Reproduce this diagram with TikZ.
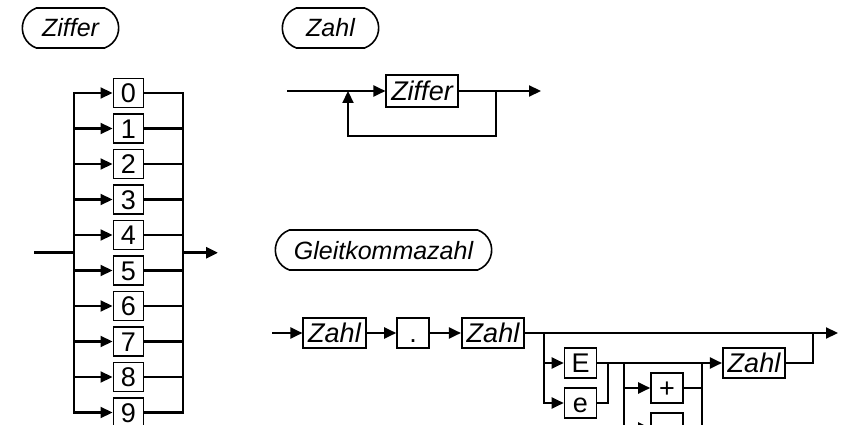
\documentclass[tikz,border=0pt]{standalone}
\usepackage{fontspec}
\setmainfont{Liberation Sans}
\usetikzlibrary{arrows.meta,shapes.misc}

\begin{document}
\begin{tikzpicture}[x=1pt,y=-1pt,
  line/.style={line width=2.2pt, line cap=rect},
  thickline/.style={line, line width=2.8pt},
  arr/.style={line, -{Triangle[length=12pt,width=11pt]}},
  thickarr/.style={arr, line width=2.8pt},
  box/.style={font=\fontsize{27}{32}\selectfont, draw, line width=1.6pt,
    fill=white, minimum height=30pt,
    text height=19.5pt, text depth=0pt, inner xsep=5pt, inner ysep=0pt},
  namebox/.style={box, font=\fontsize{27}{32}\selectfont\itshape},
  digitbox/.style={box, minimum width=30pt, minimum height=29pt, inner xsep=0pt},
  keybox/.style={box, minimum width=32pt, inner xsep=0pt},
  title/.style={draw, line width=1.6pt, rounded rectangle,
    rounded rectangle arc length=140, minimum height=40pt,
    text height=18pt, text depth=0pt, inner ysep=0pt,
    font=\fontsize{25}{30}\selectfont\itshape}]

\clip (0,0) rectangle (847,425);

% ---------- Ziffer ----------
\node[title, minimum width=103pt] (tZiffer) at (70.5,28) {Ziffer};

\foreach \i in {0,...,9} {
  \pgfmathsetmacro\yy{93+35.5*\i}
  \node[digitbox] (d\i) at (128.3,\yy) {\i};
  \coordinate (l\i) at (74,\yy);
  \coordinate (r\i) at (183,\yy);
  \draw[arr] (l\i) -- (d\i.west);
  \draw[line] (d\i.east) -- (r\i);
}
\draw[line] (l0) -- (l9);
\draw[line] (r0) -- (r9);

\coordinate (zin)  at (35,252.75);
\coordinate (zl)   at (74,252.75);
\coordinate (zr)   at (183,252.75);
\coordinate (zout) at (218,252.75);
\draw[thickline] (zin) -- (zl);
\draw[thickarr] (zr) -- (zout);

% ---------- Zahl ----------
\node[title, minimum width=103pt] (tZahl) at (330.5,28) {Zahl};

\node[namebox, minimum height=32pt] (zf) at (422,91) {Ziffer};
\coordinate (zs) at (288,91);
\coordinate (zj) at (348,91);
\coordinate (zk) at (496,91);
\coordinate (ze) at (541,91);
\coordinate (zb1) at (496,136);
\coordinate (zb2) at (348,136);
\draw[arr] (zs) -- (zf.west);
\draw[arr] (zf.east) -- (ze);
\draw[arr] (zk) -- (zb1) -- (zb2) -- (zj);

% ---------- Gleitkommazahl ----------
\node[title, minimum width=223pt] (tGleit) at (383.5,250) {Gleitkommazahl};

\node[namebox] (ga) at (334.5,333) {Zahl};
\node[keybox]  (gd) at (413,333) {.};
\node[namebox] (gb) at (493,333) {Zahl};
\coordinate (gs) at (273,333);
\coordinate (j1) at (544,333);
\coordinate (j2) at (813,333);
\coordinate (ge) at (838,333);
\draw[arr] (gs) -- (ga.west);
\draw[arr] (ga.east) -- (gd.west);
\draw[arr] (gd.east) -- (gb.west);
\draw[arr] (gb.east) -- (ge);

\node[keybox] (gE) at (580.5,363) {E};
\node[keybox] (ge2) at (580.5,403) {e};
\draw[arr] (j1) |- (gE.west);
\draw[arr] (j1) |- (ge2.west);

\coordinate (m1) at (608,363);
\coordinate (s1) at (624,363);
\coordinate (s2) at (702,363);
\node[keybox]  (gplus)  at (667,388) {+};
\node[keybox]  (gminus) at (667,428) {-};
\node[namebox] (gz) at (754,363) {Zahl};
\draw[line] (ge2.east) -| (m1);
\draw[arr] (gE.east) -- (gz.west);
\draw[arr] (s1) |- (gplus.west);
\draw[arr] (s1) |- (gminus.west);
\draw[line] (gplus.east) -| (s2);
\draw[line] (gminus.east) -| (s2);
\draw[line] (gz.east) -| (j2);

\end{tikzpicture}
\end{document}
